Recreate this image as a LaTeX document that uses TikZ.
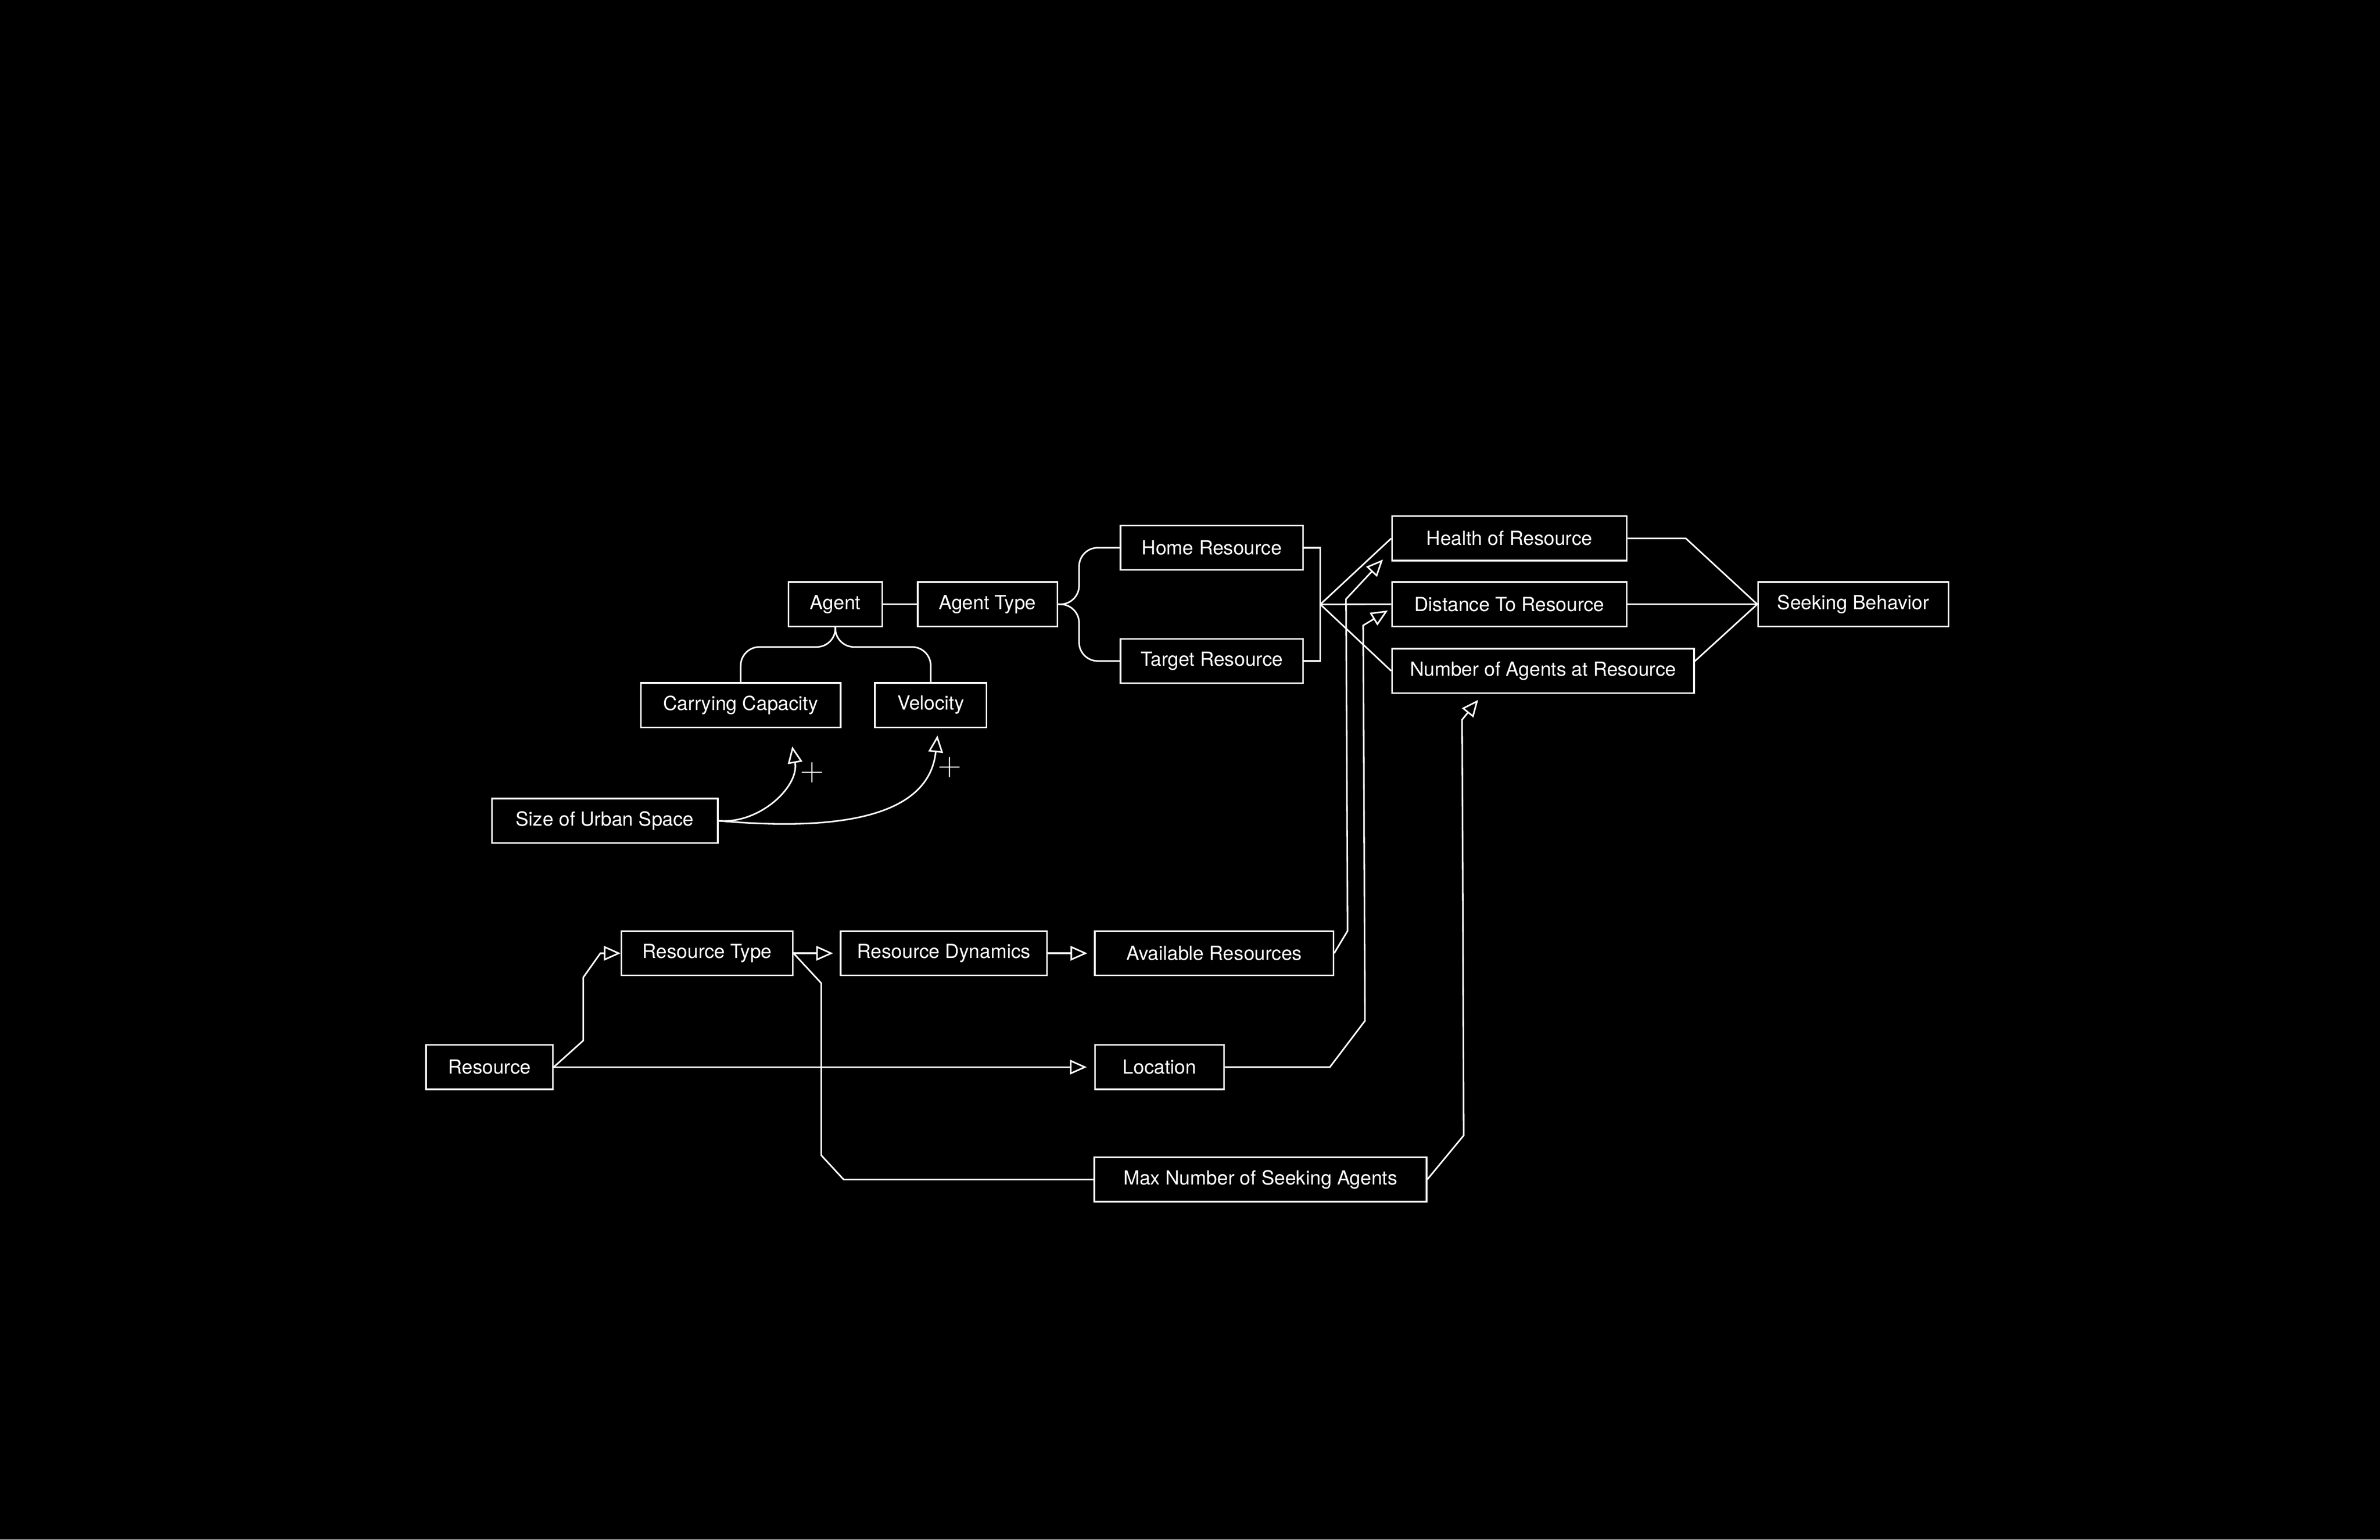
\documentclass[tikz,border=0pt]{standalone}
\usepackage{fontspec}
\setmainfont{TeX Gyre Heros}
\usetikzlibrary{arrows.meta,positioning,calc}

\begin{document}
\begin{tikzpicture}[
    box/.style={draw=white, line width=1.2pt, text=white, minimum height=1.19cm, inner xsep=0.2cm, font=\fontsize{14.8}{17}\selectfont},
    link/.style={draw=white, line width=1.2pt},
    flow/.style={link, -{Triangle[open, length=0.45cm, width=0.39cm]}},
    sign/.style={text=white, inner sep=0pt, font=\fontsize{26}{26}\selectfont}
  ]
      \fill[black] (0,0) rectangle (63.75,41.25);

      \node[box, minimum width=2.51cm] (agent) at (22.375,25.06) {Agent};
      \node[box, minimum width=3.74cm] (agenttype) at (26.45,25.06) {Agent Type};
      \node[box, minimum width=4.89cm] (home) at (32.46,26.575) {Home Resource};
      \node[box, minimum width=4.89cm] (target) at (32.46,23.54) {Target Resource};
      \node[box, minimum width=5.35cm] (cc) at (19.84,22.36) {Carrying Capacity};
      \node[box, minimum width=2.99cm] (velocity) at (24.93,22.36) {Velocity};
      \node[box, minimum width=6.05cm] (urban) at (16.2,19.26) {Size of Urban Space};

      \node[box, minimum width=6.29cm] (health) at (40.43,26.825) {Health of Resource};
      \node[box, minimum width=6.29cm] (distance) at (40.43,25.06) {Distance To Resource};
      \node[box, minimum width=8.09cm] (nagents) at (41.33,23.275) {Number of Agents at Resource};
      \node[box, minimum width=5.10cm] (seeking) at (49.64,25.06) {Seeking Behavior};

      \node[box, minimum width=4.59cm] (restype) at (18.94,15.71) {Resource Type};
      \node[box, minimum width=5.53cm] (resdyn) at (25.28,15.71) {Resource Dynamics};
      \node[box, minimum width=6.39cm] (avail) at (32.52,15.71) {Available Resources};
      \node[box, minimum width=3.40cm] (resource) at (13.11,12.66) {Resource};
      \node[box, minimum width=3.46cm] (location) at (31.06,12.66) {Location};
      \node[box, minimum width=8.90cm] (maxagents) at (33.76,9.65) {Max Number of Seeking Agents};

      \draw[link] (agent) -- (agenttype);
      \draw[link, rounded corners=0.5cm] (agenttype.east) -| ([xshift=-1.09cm]home.west) -- (home.west);
      \draw[link, rounded corners=0.5cm] (agenttype.east) -| ([xshift=-1.09cm]target.west) -- (target.west);
      \draw[link, rounded corners=0.5cm] (agent.south) |- ([yshift=0.94cm]cc.north) -- (cc.north);
      \draw[link, rounded corners=0.5cm] (agent.south) |- ([yshift=0.94cm]velocity.north) -- (velocity.north);

      \draw[link] (home.east) -- ++(0.44,0) |- (target.east);
      \coordinate (fan) at ($(home.east)!0.5!(target.east)+(0.44,0)$);
      \draw[link] (fan) -- (health.west);
      \draw[link] (fan) -- (distance.west);
      \draw[link] (fan) -- (nagents.west);

      \draw[link] (health.east) -- ++(1.56,0) -- (seeking.west);
      \draw[link] (distance) -- (seeking);
      \draw[link] ([yshift=0.26cm]nagents.east) -- (seeking.west);

      \coordinate (ccin) at ([shift={(1.38,-0.49)}]cc.south);
      \coordinate (velin) at ([shift={(0.18,-0.2)}]velocity.south);
      \draw[flow] (urban.east) to[out=-5, in=-80] (ccin);
      \draw[flow] (urban.east) to[out=-5, in=-96] (velin);
      \node[sign] (plusA) at (21.75,20.55) {$+$};
      \node[sign] (plusB) at (25.44,20.69) {$+$};

      \draw[flow] (resource.east) -- ++(0.79,0.71) -- ++(0,1.69) -- ++(0.46,0.65) -- (restype.west);
      \draw[flow, shorten >=0.2cm] (resource) -- (location);
      \draw[flow, shorten >=0.18cm] (restype) -- (resdyn);
      \draw[flow, shorten >=0.18cm] (resdyn) -- (avail);
      \draw[link] (restype.east) -- ++(0.74,-0.8) -- ++(0,-4.61) -- ++(0.6,-0.65) -- (maxagents.west);

      \coordinate (healthin) at ([shift={(-0.22,0.05)}]health.south west);
      \draw[flow] (avail.east) -- ++(0.36,0.6) -- ([shift={(-0.99,-1.06)}]healthin) -- (healthin);
      \coordinate (distin) at ([shift={(-0.09,0.45)}]distance.south west);
      \draw[flow] (location.east) -- ++(2.81,0) -- ++(0.94,1.24) -- ([shift={(-0.66,-0.4)}]distin) -- (distin);
      \coordinate (nagin) at ([shift={(2.33,-0.16)}]nagents.south west);
      \draw[flow] (maxagents.east) -- ++(0.975,1.18) -- ([shift={(-0.43,-0.53)}]nagin) -- (nagin);

    \end{tikzpicture}
\end{document}
